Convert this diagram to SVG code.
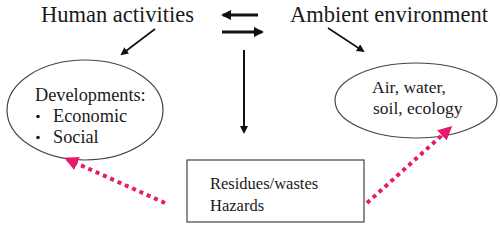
<svg xmlns="http://www.w3.org/2000/svg" width="500" height="228" viewBox="0 0 500 228">
<defs>
<style>
.t{font-family:"Liberation Serif","Times New Roman",serif;fill:#1a1a1a}
.big{font-size:22.5px}
.sm{font-size:17.5px}
.md{font-size:18.3px}
.rs{font-size:16.5px}
.ln{stroke:#111;fill:none}
.pk{stroke:#e8186c;stroke-width:4;stroke-dasharray:4 4;fill:none}
.shape{fill:#fff;stroke:#444;stroke-width:1.2}
</style>
<marker id="ah" markerWidth="8" markerHeight="8" refX="6" refY="4" orient="auto" markerUnits="userSpaceOnUse">
<path d="M0,0 L8,4 L0,8 Z" fill="#111"/>
</marker>
<marker id="ah2" markerWidth="10" markerHeight="10" refX="8" refY="5" orient="auto" markerUnits="userSpaceOnUse">
<path d="M0,0 L10,5 L0,10 Z" fill="#111"/>
</marker>
<marker id="pa" markerWidth="14" markerHeight="14" refX="11" refY="7" orient="auto" markerUnits="userSpaceOnUse">
<path d="M0,0 L14,7 L0,14 Z" fill="#e8186c"/>
</marker>
</defs>
<rect width="500" height="228" fill="#fff"/>
<g id="human"><text class="t big" x="41" y="21.5">Human activities</text></g>
<g id="ambient"><text class="t big" x="290" y="21.5">Ambient environment</text></g>
<g id="developments">
<ellipse class="shape" cx="85" cy="110" rx="78" ry="50"/>
<text class="t md" x="35" y="101">Developments:</text>
<circle cx="38" cy="116.5" r="1.8" fill="#1a1a1a"/>
<text class="t md" x="53" y="122">Economic</text>
<circle cx="38" cy="137.5" r="1.8" fill="#1a1a1a"/>
<text class="t md" x="53" y="143">Social</text>
</g>
<g id="air">
<ellipse class="shape" cx="416" cy="100.5" rx="81" ry="37.5"/>
<text class="t sm" x="372" y="93">Air, water,</text>
<text class="t sm" x="373" y="114">soil, ecology</text>
</g>
<g id="residues">
<rect class="shape" x="187" y="160" width="177" height="62"/>
<text class="t rs" x="210" y="189">Residues/wastes</text>
<text class="t rs" x="210" y="211">Hazards</text>
</g>
<g id="connectors">
<line class="ln" x1="258" y1="15" x2="223" y2="15" stroke-width="3" marker-end="url(#ah2)"/>
<line class="ln" x1="222" y1="32" x2="262" y2="32" stroke-width="3" marker-end="url(#ah2)"/>
<line class="ln" x1="244" y1="50" x2="244" y2="132" stroke-width="2" marker-end="url(#ah)"/>
<line class="ln" x1="155" y1="29" x2="122" y2="54" stroke-width="1.6" marker-end="url(#ah)"/>
<line class="ln" x1="328" y1="28" x2="363" y2="51" stroke-width="1.6" marker-end="url(#ah)"/>
<line class="pk" x1="165" y1="203" x2="67" y2="159" marker-end="url(#pa)"/>
<line class="pk" x1="367" y1="203" x2="450" y2="128" marker-end="url(#pa)"/>
</g>
</svg>
